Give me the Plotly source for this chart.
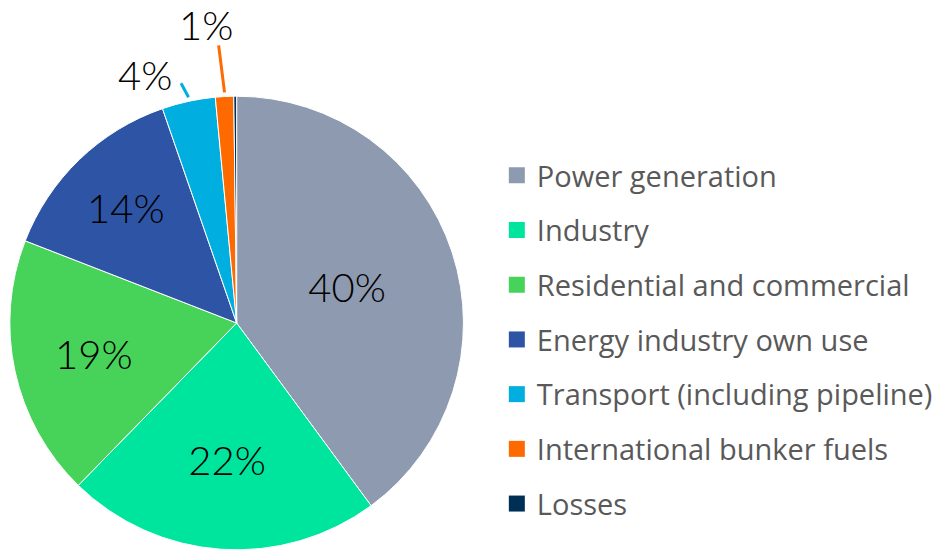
import math
import plotly.graph_objects as go

categories = ["Power generation", "Industry", "Residential and commercial",
              "Energy industry own use", "Transport (including pipeline)",
              "International bunker fuels", "Losses"]
shares = [39.9, 22.4, 18.6, 13.8, 3.8, 1.3, 0.2]
slice_labels = ["40%", "22%", "19%", "14%", "4%", "1%", ""]
colors = ["#8E9AAF", "#00E59E", "#47D35A", "#2E55A5", "#00AEDF", "#FF6A00", "#002F55"]

W, H = 938, 554
dom_x = [10 / W, 472 / W]
dom_y = [0, 462 / H]

inside = [True, True, True, True, False, False, False]

fig = go.Figure()
fig.add_trace(go.Pie(
    labels=categories, values=shares,
    text=[t if ins else "" for t, ins in zip(slice_labels, inside)],
    textinfo="text", sort=False, direction="clockwise", rotation=0,
    marker=dict(colors=colors, line=dict(color="white", width=1)),
    textposition=["inside" if ins else "none" for ins in inside],
    insidetextorientation="horizontal",
    textfont=dict(family="Lato", size=40, color="black", weight=300),
    domain=dict(x=dom_x, y=dom_y),
    showlegend=False, hoverinfo="label+percent",
))

# outside labels for the small slices, anchored at the slice edge midpoint
cx_px = (dom_x[0] + dom_x[1]) / 2 * W
cy_px = H - (dom_y[0] + dom_y[1]) / 2 * H
r_px = min((dom_x[1] - dom_x[0]) * W, (dom_y[1] - dom_y[0]) * H) / 2
total = sum(shares)
offsets = {4: dict(line=(-8, -15), text=(-44, 22)),
           5: dict(line=(-6, -48), text=(-19, 67))}
cum = 0
for i, v in enumerate(shares):
    mid = (cum + v / 2) / total * 2 * math.pi
    cum += v
    if i not in offsets:
        continue
    ex = cx_px + r_px * math.sin(mid)
    ey = cy_px - r_px * math.cos(mid)
    xp, yp = ex / W, 1 - ey / H
    lx, ly = offsets[i]["line"]
    fig.add_annotation(x=xp, y=yp, xref="paper", yref="paper", text=" ",
                       showarrow=True, arrowhead=0, arrowwidth=3,
                       arrowcolor=colors[i], ax=lx, ay=ly, standoff=0,
                       font=dict(size=1), borderpad=0)
    tx, ty = offsets[i]["text"]
    fig.add_annotation(x=xp, y=yp, xref="paper", yref="paper",
                       text=slice_labels[i], showarrow=False,
                       xanchor="center", yanchor="middle",
                       xshift=tx, yshift=ty,
                       font=dict(family="Lato", size=40, color="black", weight=300))

for name, col in zip(categories, colors):
    fig.add_trace(go.Scatter(
        x=[None], y=[None], mode="markers", name=name, legendgroup=name,
        marker=dict(symbol="square", size=16, color=col),
    ))

fig.update_layout(
    width=W, height=H,
    margin=dict(l=0, r=0, t=0, b=0),
    paper_bgcolor="white", plot_bgcolor="white",
    xaxis=dict(visible=False), yaxis=dict(visible=False),
    legend=dict(x=506 / W, xanchor="left", y=1 - 150 / H, yanchor="top",
                font=dict(family="Open Sans", size=29, color="#595959"),
                tracegroupgap=14, bgcolor="rgba(0,0,0,0)"),
)

fig.write_html("out.html", config={"displayModeBar": False},
               post_script="document.body.style.margin='0';")
